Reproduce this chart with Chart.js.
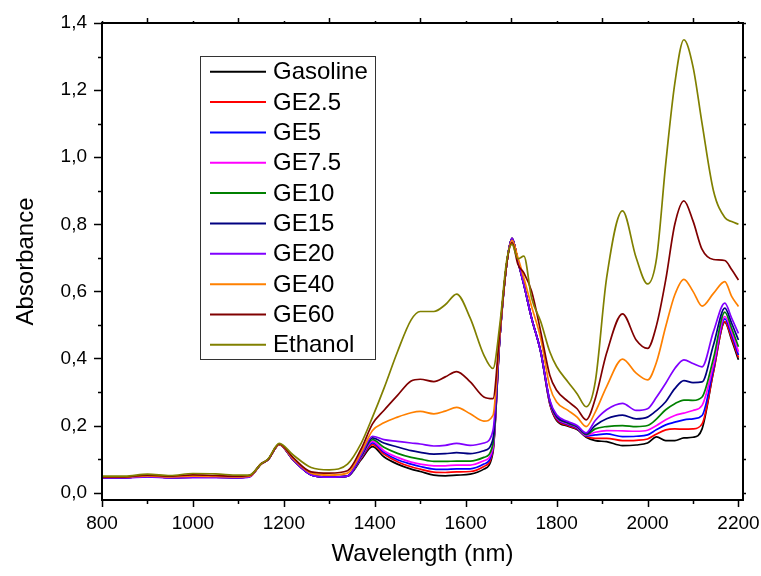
<!DOCTYPE html>
<html>
<head>
  <title>NIR absorbance of gasoline / ethanol blends</title>
  <script src="https://cdn.jsdelivr.net/npm/chart.js"></script>
  <style>
    body { margin: 0; background: #fff; }
  </style>
</head>
<body>
  <canvas id="chart" width="761" height="576"></canvas>
  <script>
    const wavelengths = [800, 850, 900, 950, 1000, 1050, 1100, 1125, 1150, 1165, 1190, 1220, 1260, 1300, 1340,
      1370, 1395, 1420, 1450, 1480, 1500, 1530, 1555, 1580, 1610, 1640, 1660, 1675, 1690, 1702, 1715, 1728,
      1745, 1765, 1785, 1800, 1825, 1845, 1865, 1885, 1910, 1945, 1975, 2000, 2020, 2040, 2060, 2080, 2100,
      2120, 2145, 2170, 2185, 2200];

    const xTicks = [800, 1000, 1200, 1400, 1600, 1800, 2000, 2200];
    const yTicks = [0, 0.2, 0.4, 0.6, 0.8, 1.0, 1.2, 1.4];

    const seriesNames = ["Gasoline", "GE2.5", "GE5", "GE7.5", "GE10", "GE15", "GE20", "GE40", "GE60", "Ethanol"];
    const seriesColors = ["#000000", "#ff0000", "#0000ff", "#ff00ff", "#008000", "#000080", "#8000ff", "#ff8000", "#800000", "#808000"];

    const gasoline = [0.046, 0.046, 0.049, 0.046, 0.047, 0.047, 0.046, 0.049, 0.085, 0.098, 0.143, 0.098, 0.054, 0.047, 0.049,
      0.098, 0.137, 0.107, 0.085, 0.070, 0.063, 0.052, 0.050, 0.052, 0.055, 0.070, 0.12, 0.46, 0.68, 0.758, 0.69, 0.62,
      0.52, 0.42, 0.265, 0.215, 0.198, 0.188, 0.165, 0.155, 0.152, 0.140, 0.142, 0.148, 0.166, 0.155, 0.155, 0.163, 0.165,
      0.19, 0.36, 0.508, 0.455, 0.396];
    const ge2_5 = [0.045, 0.045, 0.048, 0.045, 0.046, 0.046, 0.045, 0.048, 0.085, 0.098, 0.143, 0.098, 0.053, 0.046, 0.049,
      0.102, 0.143, 0.115, 0.092, 0.077, 0.070, 0.061, 0.060, 0.062, 0.063, 0.078, 0.125, 0.46, 0.68, 0.758, 0.69, 0.62,
      0.52, 0.42, 0.265, 0.218, 0.2, 0.19, 0.167, 0.162, 0.162, 0.155, 0.156, 0.160, 0.175, 0.187, 0.19, 0.189, 0.19,
      0.205, 0.36, 0.51, 0.46, 0.403];
    const ge5 = [0.045, 0.045, 0.048, 0.045, 0.046, 0.046, 0.045, 0.048, 0.086, 0.098, 0.144, 0.099, 0.053, 0.046, 0.049,
      0.104, 0.148, 0.12, 0.098, 0.085, 0.078, 0.070, 0.069, 0.071, 0.071, 0.085, 0.13, 0.46, 0.68, 0.758, 0.69, 0.62,
      0.52, 0.42, 0.268, 0.222, 0.203, 0.192, 0.169, 0.172, 0.175, 0.167, 0.168, 0.172, 0.188, 0.202, 0.21, 0.217, 0.22,
      0.23, 0.37, 0.518, 0.47, 0.41];
    const ge7_5 = [0.045, 0.045, 0.048, 0.045, 0.046, 0.046, 0.045, 0.048, 0.086, 0.098, 0.144, 0.099, 0.053, 0.046, 0.049,
      0.106, 0.153, 0.125, 0.105, 0.091, 0.085, 0.080, 0.080, 0.082, 0.082, 0.095, 0.135, 0.46, 0.68, 0.758, 0.69, 0.62,
      0.52, 0.42, 0.27, 0.224, 0.205, 0.194, 0.171, 0.18, 0.185, 0.184, 0.183, 0.186, 0.2, 0.217, 0.23, 0.237, 0.245,
      0.26, 0.38, 0.525, 0.48, 0.42];
    const ge10 = [0.045, 0.045, 0.048, 0.045, 0.046, 0.046, 0.045, 0.048, 0.086, 0.098, 0.144, 0.099, 0.053, 0.046, 0.049,
      0.108, 0.158, 0.135, 0.117, 0.105, 0.1, 0.093, 0.093, 0.094, 0.094, 0.105, 0.145, 0.46, 0.68, 0.758, 0.69, 0.62,
      0.52, 0.42, 0.272, 0.226, 0.207, 0.196, 0.173, 0.19, 0.197, 0.2, 0.197, 0.2, 0.22, 0.247, 0.265, 0.276, 0.275,
      0.285, 0.40, 0.538, 0.49, 0.435];
    const ge15 = [0.045, 0.045, 0.048, 0.045, 0.046, 0.046, 0.045, 0.048, 0.086, 0.098, 0.144, 0.099, 0.053, 0.046, 0.049,
      0.11, 0.163, 0.148, 0.136, 0.125, 0.12, 0.115, 0.116, 0.119, 0.116, 0.125, 0.16, 0.46, 0.68, 0.758, 0.69, 0.62,
      0.52, 0.42, 0.274, 0.228, 0.209, 0.198, 0.175, 0.2, 0.22, 0.231, 0.22, 0.225, 0.245, 0.271, 0.31, 0.334, 0.328,
      0.33, 0.44, 0.55, 0.505, 0.455];
    const ge20 = [0.044, 0.044, 0.047, 0.044, 0.045, 0.045, 0.044, 0.047, 0.086, 0.098, 0.144, 0.099, 0.053, 0.046, 0.049,
      0.112, 0.168, 0.158, 0.153, 0.148, 0.145, 0.139, 0.141, 0.147, 0.141, 0.148, 0.185, 0.46, 0.68, 0.758, 0.69, 0.62,
      0.52, 0.42, 0.276, 0.232, 0.212, 0.2, 0.178, 0.215, 0.247, 0.266, 0.245, 0.25, 0.285, 0.326, 0.37, 0.396, 0.385,
      0.375, 0.48, 0.565, 0.52, 0.475];
    const ge40 = [0.046, 0.046, 0.05, 0.047, 0.049, 0.048, 0.047, 0.049, 0.086, 0.098, 0.144, 0.102, 0.058, 0.052, 0.058,
      0.12, 0.185, 0.208, 0.225, 0.238, 0.242, 0.235, 0.243, 0.254, 0.235, 0.213, 0.23, 0.47, 0.68, 0.752, 0.7, 0.64,
      0.555, 0.46, 0.316, 0.27, 0.245, 0.225, 0.197, 0.24, 0.316, 0.398, 0.356, 0.336, 0.39, 0.495, 0.59, 0.636, 0.6,
      0.556, 0.594, 0.629, 0.585, 0.555];
    const ge60 = [0.047, 0.047, 0.052, 0.049, 0.053, 0.051, 0.049, 0.051, 0.086, 0.098, 0.145, 0.105, 0.062, 0.058, 0.065,
      0.13, 0.205, 0.245, 0.29, 0.333, 0.338, 0.331, 0.345, 0.361, 0.33, 0.285, 0.28, 0.48, 0.68, 0.745, 0.68, 0.655,
      0.6, 0.48, 0.35, 0.305, 0.272, 0.25, 0.217, 0.28, 0.416, 0.533, 0.455, 0.43, 0.5, 0.634, 0.80, 0.87, 0.81,
      0.725, 0.695, 0.692, 0.665, 0.634];
    const ethanol = [0.049, 0.049, 0.055, 0.051, 0.057, 0.056, 0.052, 0.053, 0.086, 0.1, 0.147, 0.113, 0.075, 0.068, 0.085,
      0.147, 0.225, 0.31, 0.42, 0.515, 0.54, 0.54, 0.56, 0.592, 0.52, 0.41, 0.37, 0.5, 0.69, 0.74, 0.697, 0.705,
      0.58, 0.51, 0.42, 0.376, 0.33, 0.295, 0.256, 0.33, 0.64, 0.84, 0.70, 0.622, 0.70, 0.98, 1.22, 1.35, 1.27,
      1.10, 0.90, 0.82, 0.808, 0.80];

    const seriesValues = [gasoline, ge2_5, ge5, ge7_5, ge10, ge15, ge20, ge40, ge60, ethanol];

    const FONT = "'Liberation Sans', Arial, sans-serif";

    // box round the plot, ticks on all four sides, legend box
    const framePlugin = {
      id: "frame",
      afterDatasetsDraw(chart) {
        const { ctx, chartArea: a, scales: { x, y } } = chart;
        ctx.save();
        ctx.strokeStyle = "#000";
        ctx.lineWidth = 1.5;
        for (let v = 800; v <= 2200; v += 100) {
          const px = Math.round(x.getPixelForValue(v)) + 0.5;
          const bottomLen = v % 200 === 0 ? 7 : 4;
          const topLen = v % 200 === 100 ? 5 : 2;
          ctx.beginPath();
          ctx.moveTo(px, a.bottom); ctx.lineTo(px, a.bottom + bottomLen);
          ctx.moveTo(px, a.top); ctx.lineTo(px, a.top - topLen);
          ctx.stroke();
        }
        for (let i = 0; i <= 14; i++) {
          const py = Math.round(y.getPixelForValue(i / 10)) + 0.5;
          const major = i % 2 === 0;
          ctx.beginPath();
          ctx.moveTo(a.left, py); ctx.lineTo(a.left - (major ? 8 : 4), py);
          ctx.moveTo(a.right, py); ctx.lineTo(a.right + 3, py);
          ctx.stroke();
        }
        ctx.lineWidth = 2;
        ctx.strokeRect(a.left, a.top, a.right - a.left, a.bottom - a.top);

        // legend
        const lx = 200.5, ly = 56.5, lw = 175, lh = 303;
        ctx.fillStyle = "#fff";
        ctx.fillRect(lx, ly, lw, lh);
        ctx.lineWidth = 1;
        ctx.strokeStyle = "#333";
        ctx.strokeRect(lx, ly, lw, lh);
        ctx.font = "24px " + FONT;
        ctx.textBaseline = "middle";
        ctx.textAlign = "left";
        seriesNames.forEach((name, i) => {
          const ry = 71.7 + i * 30.35;
          ctx.strokeStyle = seriesColors[i];
          ctx.lineWidth = 2;
          ctx.beginPath();
          ctx.moveTo(210, ry); ctx.lineTo(266, ry);
          ctx.stroke();
          ctx.fillStyle = "#000";
          ctx.fillText(name, 273, ry + 1);
        });
        ctx.restore();
      }
    };

    const datasets = seriesNames.map((name, i) => ({
      label: name,
      data: wavelengths.map((w, j) => ({ x: w, y: seriesValues[i][j] })),
      borderColor: seriesColors[i],
      borderWidth: 1.7,
      pointRadius: 0,
      cubicInterpolationMode: "monotone",
      fill: false,
      order: seriesNames.length - i
    }));

    const chart = new Chart(document.getElementById("chart").getContext("2d"), {
      type: "line",
      data: { datasets: datasets },
      plugins: [framePlugin],
      options: {
        responsive: false,
        animation: false,
        layout: { padding: { left: 0, right: 18, top: 23, bottom: 0 } },
        plugins: {
          legend: { display: false },
          tooltip: { enabled: false }
        },
        scales: {
          x: {
            type: "linear",
            min: 800,
            max: 2210,
            grid: { display: false, drawTicks: false },
            border: { display: false },
            afterBuildTicks: (s) => { s.ticks = xTicks.map((v) => ({ value: v })); },
            ticks: {
              padding: 12,
              minRotation: 0,
              maxRotation: 0,
              autoSkip: false,
              color: "#000",
              font: { family: FONT, size: 19 },
              callback: (v) => String(v)
            },
            title: {
              display: true,
              text: "Wavelength (nm)",
              color: "#000",
              font: { family: FONT, size: 24 },
              padding: { top: 0, bottom: 7 }
            },
            afterFit: (s) => { s.height = 76; s.paddingLeft = 0; s.paddingRight = 0; }
          },
          y: {
            type: "linear",
            min: -0.022,
            max: 1.4,
            grid: { display: false, drawTicks: false },
            border: { display: false },
            afterBuildTicks: (s) => { s.ticks = yTicks.map((v) => ({ value: v })); },
            ticks: {
              padding: 15,
              autoSkip: false,
              color: "#000",
              font: { family: FONT, size: 19 },
              callback: (v) => v.toFixed(1).replace(".", ",")
            },
            title: {
              display: true,
              text: "Absorbance",
              color: "#000",
              font: { family: FONT, size: 24 },
              padding: { top: 12, bottom: 0 }
            },
            afterFit: (s) => { s.width = 102; s.paddingTop = 0; s.paddingBottom = 0; }
          }
        }
      }
    });
  </script>
</body>
</html>
